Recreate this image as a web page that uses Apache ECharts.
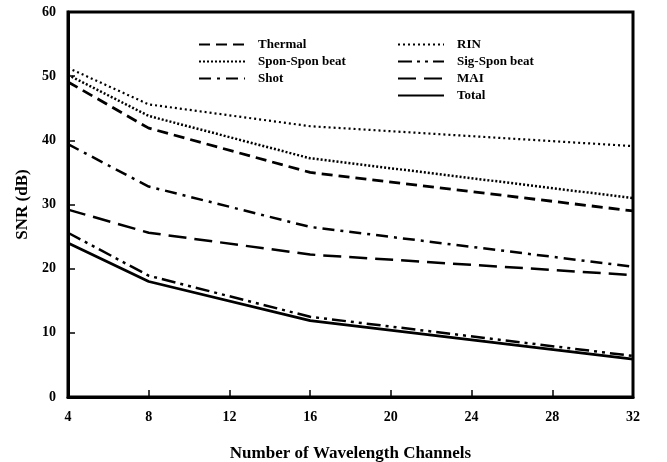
<!DOCTYPE html>
<html><head><meta charset="utf-8">
<script src="https://cdn.jsdelivr.net/npm/echarts@6/dist/echarts.min.js"></script>
<style>html,body{margin:0;padding:0;background:#fff}#c{width:667px;height:462px}</style>
</head><body><div id="c"></div>
<script>
const channels = [4, 8, 16, 32];
const thermal = [49.1, 41.9, 35.0, 29.0];
const sponSpon = [50.2, 43.8, 37.2, 31.0];
const shot = [39.4, 32.8, 26.5, 20.3];
const rin = [51.3, 45.6, 42.2, 39.1];
const sigSpon = [25.6, 18.9, 12.5, 6.4];
const mai = [29.2, 25.6, 22.2, 19.0];
const total = [24.0, 18.0, 11.9, 5.9];
const xTicks = [4, 8, 12, 16, 20, 24, 28, 32];
const yTicks = [0, 10, 20, 30, 40, 50, 60];

const FONT = '"Liberation Serif", "Times New Roman", serif';
function pts(v) { return channels.map((x, i) => [x, v[i]]); }
function ser(name, data, type, width) {
  return { name, type: 'line', data: pts(data), symbol: 'none', symbolSize: 0, showSymbol: false,
    lineStyle: { color: '#000', width: width || 2.5, type: type },
    itemStyle: { color: '#000' }, emphasis: { disabled: true } };
}
const chart = echarts.init(document.getElementById('c'), null, { renderer: 'canvas' });
const legendCommon = { orient: 'vertical', itemWidth: 46, itemHeight: 10, itemGap: 4,
  itemStyle: { opacity: 0 },
  textStyle: { fontFamily: FONT, fontWeight: 'bold', fontSize: 13, color: '#000', padding: [0, 0, 0, 8] } };
chart.setOption({
  animation: false,
  backgroundColor: '#fff',
  grid: { left: 68, right: 34, top: 12, bottom: 65, show: true, borderColor: '#000', borderWidth: 3,
    outerBoundsMode: 'none', containLabel: false },
  legend: [
    Object.assign({}, legendCommon, { left: 193, top: 33, data: ['Thermal', 'Spon-Spon beat', 'Shot'] }),
    Object.assign({}, legendCommon, { left: 392, top: 33, data: ['RIN', 'Sig-Spon beat', 'MAI', 'Total'] })
  ],
  xAxis: {
    type: 'value', min: xTicks[0], max: xTicks[xTicks.length - 1], interval: 4,
    name: 'Number of Wavelength Channels', nameLocation: 'middle', nameGap: 48,
    nameTextStyle: { fontFamily: FONT, fontWeight: 'bold', fontSize: 17, color: '#000' },
    axisLine: { lineStyle: { color: '#000', width: 3 } },
    axisTick: { inside: true, length: 7, lineStyle: { color: '#000', width: 1.5 } },
    axisLabel: { fontFamily: FONT, fontWeight: 'bold', fontSize: 14, color: '#000', margin: 13 },
    splitLine: { show: false }
  },
  yAxis: {
    type: 'value', min: yTicks[0], max: yTicks[yTicks.length - 1], interval: 10,
    name: 'SNR (dB)', nameLocation: 'middle', nameGap: 37, nameRotate: 90,
    nameTextStyle: { fontFamily: FONT, fontWeight: 'bold', fontSize: 17, color: '#000' },
    axisLine: { lineStyle: { color: '#000', width: 3 } },
    axisTick: { inside: true, length: 7, lineStyle: { color: '#000', width: 1.5 } },
    axisLabel: { fontFamily: FONT, fontWeight: 'bold', fontSize: 14, color: '#000', margin: 12 },
    splitLine: { show: false }
  },
  series: [
    ser('Thermal', thermal, [11, 6], 2.8),
    ser('Spon-Spon beat', sponSpon, [2, 2], 2.5),
    ser('Shot', shot, [12, 6, 3, 6], 2.5),
    ser('RIN', rin, [2, 3], 2.2),
    ser('Sig-Spon beat', sigSpon, [14, 5, 3, 5, 3, 5], 2.5),
    ser('MAI', mai, [18, 8], 2.5),
    ser('Total', total, 'solid', 2.8)
  ]
});
</script></body></html>
